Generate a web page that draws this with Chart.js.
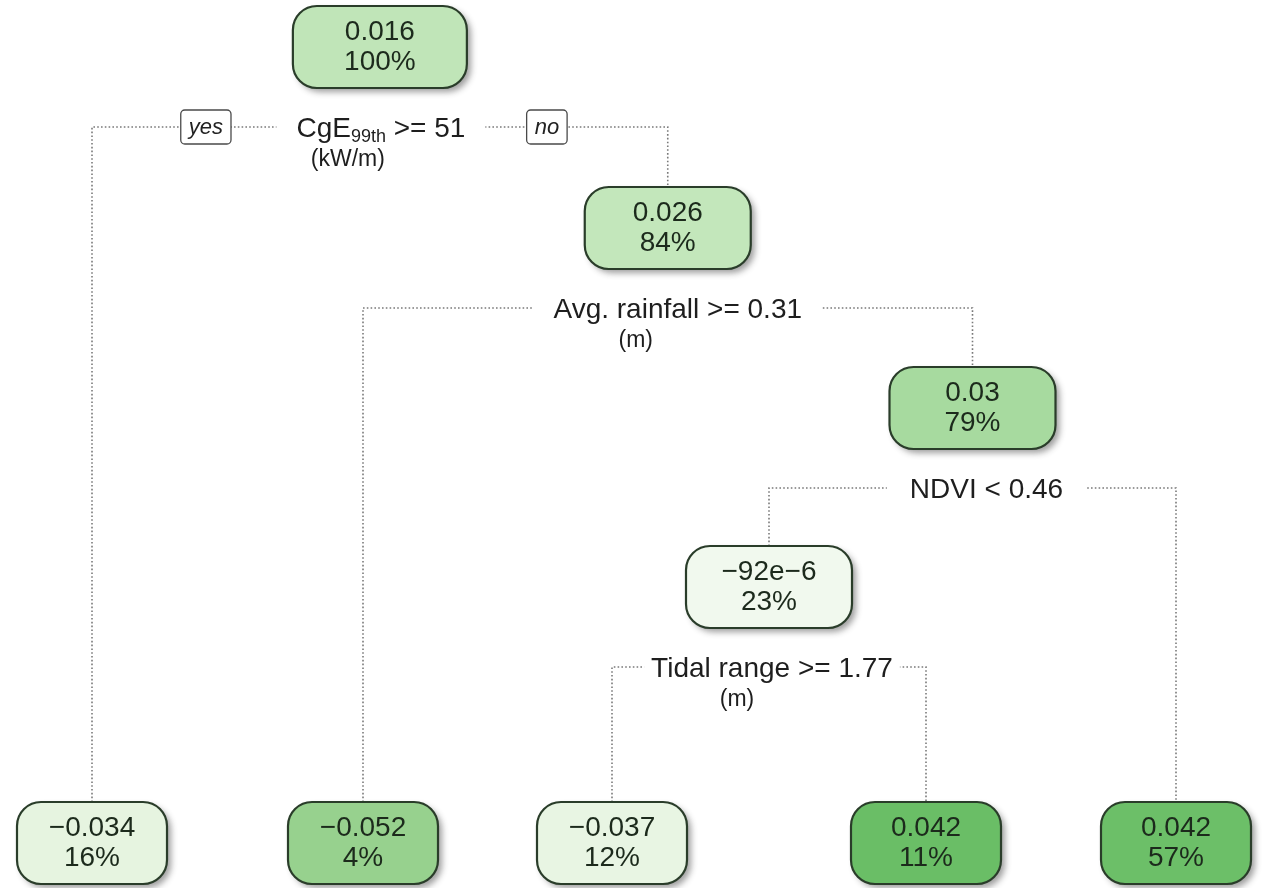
<!DOCTYPE html>
<html>
<head>
<meta charset="utf-8">
<title>Regression tree</title>
<script src="https://cdn.jsdelivr.net/npm/chart.js@4.4.1/dist/chart.umd.min.js"></script>
<style>
  html, body { margin: 0; padding: 0; background: #ffffff; }
  #wrap { width: 1276px; height: 888px; }
</style>
</head>
<body>
<div id="wrap"><canvas id="tree" width="1276" height="888"></canvas></div>
<script>
// ---- Tree model (rpart numbering: children of node n are 2n and 2n+1) ----
const nodeIds   = [1, 2, 3, 6, 7, 14, 15, 28, 29];
const nodeMeans = [0.016, -0.034, 0.026, -0.052, 0.03, -0.000092, 0.042, -0.037, 0.042];
const nodePcts  = [100, 16, 84, 4, 79, 23, 57, 12, 11];

// ---- Splits, one per internal node ----
const splitNodes = [1, 3, 7, 14];
const splitVars  = ['CgE', 'Avg. rainfall', 'NDVI', 'Tidal range'];
const splitSubs  = ['99th', '', '', ''];
const splitOps   = ['>=', '>=', '<', '>='];
const splitCuts  = [51, 0.31, 0.46, 1.77];
const splitUnits = ['(kW/m)', '(m)', '', '(m)'];
const branchTags = ['yes', 'no'];

// ---- Layout & style ----
const FONT = '"Liberation Sans", Arial, Helvetica, sans-serif';
const leafSlots = [92, 363, 612, 926, 1176];   // horizontal slot of each leaf, left to right
const levelY    = [47, 228, 408, 587];         // vertical level of internal nodes by depth
const leafLevel = 843;                          // leaves fall to the bottom row
const LABEL_GAP = 80, UNITS_GAP = 33, UNITS_DX = -32;
const labelDx   = [1, 10, 14, 3];
const labelPad  = [20, 20, 23, 7];
const nodeFill  = ['#c0e5b8', '#e6f4e0', '#c3e7bb', '#97d18e', '#a7da9f', '#f1f9ee', '#6cbf68', '#e8f5e3', '#6abe66'];
const BOX_H = 82, RADIUS = 24;

const isLeaf = id => !nodeIds.includes(2 * id);
const boxW = id => id === 1 ? 174 : (isLeaf(id) ? 150 : 166);

// place leaves in order, internal nodes centred over their children
const pos = {};
let slot = 0;
(function place(id, depth) {
  if (isLeaf(id)) { pos[id] = { x: leafSlots[slot++], y: leafLevel }; return; }
  place(2 * id, depth + 1);
  place(2 * id + 1, depth + 1);
  pos[id] = { x: (pos[2 * id].x + pos[2 * id + 1].x) / 2, y: levelY[depth] };
})(1, 0);

const boxTop = id => pos[id].y - BOX_H / 2;

// R-style two-significant-digit labels with true minus signs
function fmtMean(v) {
  let s;
  if (v !== 0 && Math.abs(v) < 1e-3) {
    const e = Math.floor(Math.log10(Math.abs(v))) - 1;
    s = Math.round(v / Math.pow(10, e)) + 'e' + e;
  } else {
    s = String(Number(v.toPrecision(2)));
  }
  return s.replace(/-/g, '\u2212');
}

// dotted branch connectors: left child -> split row -> right child
const connectors = splitNodes.map(id => {
  const L = 2 * id, R = 2 * id + 1, sy = pos[id].y + LABEL_GAP;
  return {
    data: [
      { x: pos[L].x, y: boxTop(L) }, { x: pos[L].x, y: sy },
      { x: pos[R].x, y: sy }, { x: pos[R].x, y: boxTop(R) }
    ],
    borderColor: '#7a7a7a', borderWidth: 1.6, borderDash: [1.6, 2.2],
    pointRadius: 0, fill: false, tension: 0
  };
});

function roundRectPath(ctx, x, y, w, h, r) {
  ctx.beginPath();
  ctx.moveTo(x + r, y);
  ctx.lineTo(x + w - r, y);
  ctx.arcTo(x + w, y, x + w, y + r, r);
  ctx.lineTo(x + w, y + h - r);
  ctx.arcTo(x + w, y + h, x + w - r, y + h, r);
  ctx.lineTo(x + r, y + h);
  ctx.arcTo(x, y + h, x, y + h - r, r);
  ctx.lineTo(x, y + r);
  ctx.arcTo(x, y, x + r, y, r);
  ctx.closePath();
}

const treePlugin = {
  id: 'treeNodes',
  afterDatasetsDraw(chart) {
    const ctx = chart.ctx, xs = chart.scales.x, ys = chart.scales.y;
    const px = v => xs.getPixelForValue(v), py = v => ys.getPixelForValue(v);

    // split labels, on a white ground that interrupts the connector
    splitNodes.forEach((id, k) => {
      const cx = px(pos[id].x + labelDx[k]);
      const cy = py(pos[id].y + LABEL_GAP);
      const rest = ' ' + splitOps[k] + ' ' + splitCuts[k];
      ctx.save();
      ctx.font = '28px ' + FONT;
      const wBase = ctx.measureText(splitVars[k]).width;
      const wRest = ctx.measureText(rest).width;
      ctx.font = '18px ' + FONT;
      const wSub = splitSubs[k] ? ctx.measureText(splitSubs[k]).width : 0;
      const total = wBase + wSub + wRest;
      const x0 = cx - total / 2;
      ctx.fillStyle = '#ffffff';
      ctx.fillRect(x0 - labelPad[k], cy - 17, total + 2 * labelPad[k], 34);
      ctx.fillStyle = '#1e1e1e';
      ctx.textAlign = 'left';
      ctx.textBaseline = 'alphabetic';
      const base = cy + 10;
      ctx.font = '28px ' + FONT;
      ctx.fillText(splitVars[k], x0, base);
      if (wSub) { ctx.font = '18px ' + FONT; ctx.fillText(splitSubs[k], x0 + wBase, base + 5); }
      ctx.font = '28px ' + FONT;
      ctx.fillText(rest, x0 + wBase + wSub, base);
      if (splitUnits[k]) {
        ctx.font = '23px ' + FONT;
        ctx.textAlign = 'center';
        ctx.textBaseline = 'middle';
        ctx.fillText(splitUnits[k], px(pos[id].x + UNITS_DX), py(pos[id].y + LABEL_GAP + UNITS_GAP));
      }
      ctx.restore();
    });

    // yes / no tags on the root split
    const tagY = py(pos[1].y + LABEL_GAP);
    [[branchTags[0], pos[1].x - 174], [branchTags[1], pos[1].x + 167]].forEach(([t, x]) => {
      ctx.save();
      ctx.font = 'italic 22px ' + FONT;
      const w = ctx.measureText(t).width + 16, h = 34, cx = px(x);
      roundRectPath(ctx, cx - w / 2, tagY - h / 2, w, h, 4);
      ctx.fillStyle = '#ffffff';
      ctx.fill();
      ctx.strokeStyle = '#4a4a4a';
      ctx.lineWidth = 1.3;
      ctx.stroke();
      ctx.fillStyle = '#222222';
      ctx.textAlign = 'center';
      ctx.textBaseline = 'middle';
      ctx.fillText(t, cx, tagY + 1);
      ctx.restore();
    });

    // node boxes with mean and share of observations
    nodeIds.forEach((id, i) => {
      const w = boxW(id), cx = px(pos[id].x), cy = py(pos[id].y);
      const x0 = cx - w / 2, y0 = cy - BOX_H / 2;
      ctx.save();
      ctx.shadowColor = 'rgba(40,40,40,0.45)';
      ctx.shadowBlur = 6;
      ctx.shadowOffsetX = 4;
      ctx.shadowOffsetY = 4;
      roundRectPath(ctx, x0, y0, w, BOX_H, RADIUS);
      ctx.fillStyle = nodeFill[i];
      ctx.fill();
      ctx.restore();
      ctx.save();
      roundRectPath(ctx, x0, y0, w, BOX_H, RADIUS);
      ctx.strokeStyle = '#2a3d2a';
      ctx.lineWidth = 2.2;
      ctx.stroke();
      ctx.fillStyle = '#1c2a1c';
      ctx.font = '28px ' + FONT;
      ctx.textAlign = 'center';
      ctx.textBaseline = 'middle';
      ctx.fillText(fmtMean(nodeMeans[i]), cx, cy - 15);
      ctx.fillText(nodePcts[i] + '%', cx, cy + 15);
      ctx.restore();
    });
  }
};

new Chart(document.getElementById('tree'), {
  type: 'line',
  data: { datasets: connectors },
  options: {
    responsive: false,
    animation: false,
    layout: { padding: 0 },
    scales: {
      x: { type: 'linear', min: 0, max: 1276, display: false },
      y: { type: 'linear', min: 0, max: 888, reverse: true, display: false }
    },
    plugins: { legend: { display: false }, tooltip: { enabled: false } },
    events: []
  },
  plugins: [treePlugin]
});
</script>
</body>
</html>
